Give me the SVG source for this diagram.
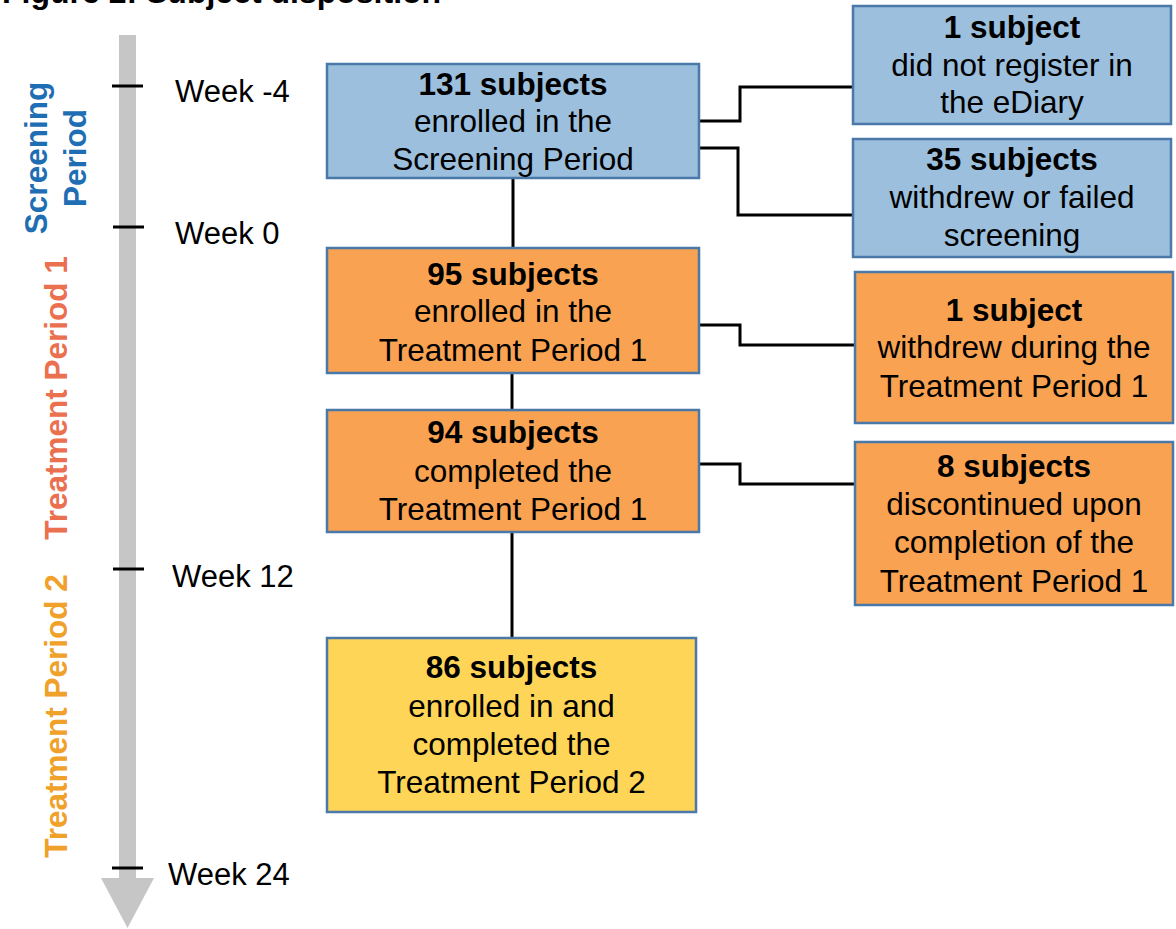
<svg xmlns="http://www.w3.org/2000/svg" width="1176" height="929" viewBox="0 0 1176 929">
<style>
  .box { stroke: #4a78a8; stroke-width: 2.5; }
  .blue { fill: #9bbfdd; }
  .orange { fill: #f9a352; }
  .yellow { fill: #ffd557; }
  .t { font-family: "Liberation Sans", Arial, sans-serif; font-size: 31.5px; fill: #000; text-anchor: middle; }
  .b { font-weight: bold; }
  .wk { font-family: "Liberation Sans", Arial, sans-serif; font-size: 31px; fill: #000; }
  .vl { font-family: "Liberation Sans", Arial, sans-serif; font-size: 31.5px; font-weight: bold; text-anchor: middle; }
  .conn { fill: none; stroke: #000; stroke-width: 3; }
  .tick { stroke: #000; stroke-width: 3; }
</style>
<rect width="1176" height="929" fill="#fff"/>
<text x="2" y="3" font-family="'Liberation Sans', Arial, sans-serif" font-size="32" font-weight="bold" fill="#000">Figure 2: Subject disposition</text>

<g id="timeline">
  <rect x="119" y="35" width="17" height="845" fill="#c6c6c6"/>
  <polygon points="101,878 154,878 127.5,928" fill="#c6c6c6"/>
  <line class="tick" x1="112" y1="86" x2="143" y2="86"/>
  <line class="tick" x1="113" y1="227" x2="144" y2="227"/>
  <line class="tick" x1="113" y1="569" x2="144" y2="569"/>
  <line class="tick" x1="112" y1="868" x2="143" y2="868"/>
  <text class="wk" x="175" y="102">Week -4</text>
  <text class="wk" x="175" y="244">Week 0</text>
  <text class="wk" x="172" y="587">Week 12</text>
  <text class="wk" x="168" y="885">Week 24</text>
</g>

<g id="period-labels">
  <text class="vl" fill="#1f6eb4" transform="translate(47,158) rotate(-90)">Screening</text>
  <text class="vl" fill="#1f6eb4" transform="translate(86,158) rotate(-90)">Period</text>
  <text class="vl" fill="#eb7050" transform="translate(67,398) rotate(-90)">Treatment Period 1</text>
  <text class="vl" fill="#f0a12a" transform="translate(67,716) rotate(-90)">Treatment Period 2</text>
</g>

<g id="connectors">
  <line class="conn" x1="513" y1="178" x2="513" y2="248"/>
  <line class="conn" x1="512" y1="373" x2="512" y2="410"/>
  <line class="conn" x1="512" y1="532" x2="512" y2="638"/>
  <polyline class="conn" points="699,121 740,121 740,87 853,87"/>
  <polyline class="conn" points="699,148 738,148 738,215 853,215"/>
  <polyline class="conn" points="699,325 740,325 740,345 855,345"/>
  <polyline class="conn" points="699,464 740,464 740,484 855,484"/>
</g>

<g id="n131">
  <rect class="box blue" x="327" y="64" width="372" height="114"/>
  <text class="t b" x="513" y="95">131 subjects</text>
  <text class="t" x="513" y="132">enrolled in the</text>
  <text class="t" x="513" y="170">Screening Period</text>
</g>

<g id="n95">
  <rect class="box orange" x="327" y="248" width="372" height="125"/>
  <text class="t b" x="513" y="285">95 subjects</text>
  <text class="t" x="513" y="322">enrolled in the</text>
  <text class="t" x="513" y="361">Treatment Period 1</text>
</g>

<g id="n94">
  <rect class="box orange" x="327" y="410" width="372" height="122"/>
  <text class="t b" x="513" y="443">94 subjects</text>
  <text class="t" x="513" y="482">completed the</text>
  <text class="t" x="513" y="520">Treatment Period 1</text>
</g>

<g id="n86">
  <rect class="box yellow" x="327" y="638" width="369" height="174"/>
  <text class="t b" x="511.5" y="678">86 subjects</text>
  <text class="t" x="511.5" y="717">enrolled in and</text>
  <text class="t" x="511.5" y="755">completed the</text>
  <text class="t" x="511.5" y="793">Treatment Period 2</text>
</g>

<g id="n1a">
  <rect class="box blue" x="853" y="6" width="318" height="118"/>
  <text class="t b" x="1012" y="38">1 subject</text>
  <text class="t" x="1012" y="76">did not register in</text>
  <text class="t" x="1012" y="113">the eDiary</text>
</g>

<g id="n35">
  <rect class="box blue" x="853" y="139" width="318" height="118"/>
  <text class="t b" x="1012" y="170">35 subjects</text>
  <text class="t" x="1012" y="208">withdrew or failed</text>
  <text class="t" x="1012" y="246">screening</text>
</g>

<g id="n1b">
  <rect class="box orange" x="855" y="272" width="318" height="151"/>
  <text class="t b" x="1014" y="321">1 subject</text>
  <text class="t" x="1014" y="358">withdrew during the</text>
  <text class="t" x="1014" y="397">Treatment Period 1</text>
</g>

<g id="n8">
  <rect class="box orange" x="855" y="442" width="318" height="163"/>
  <text class="t b" x="1014" y="477">8 subjects</text>
  <text class="t" x="1014" y="515">discontinued upon</text>
  <text class="t" x="1014" y="553">completion of the</text>
  <text class="t" x="1014" y="592">Treatment Period 1</text>
</g>
</svg>
